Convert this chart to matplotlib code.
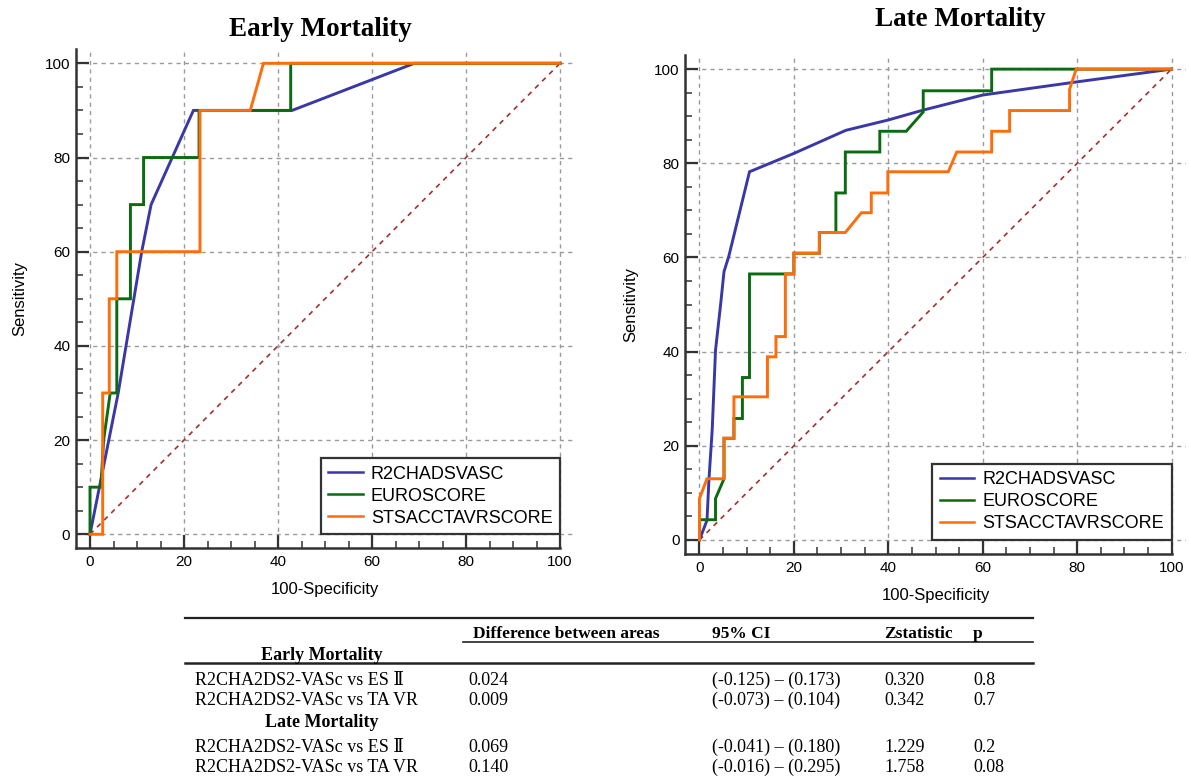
import matplotlib
matplotlib.use("Agg")
import matplotlib.pyplot as plt
from matplotlib.lines import Line2D
from matplotlib.ticker import MultipleLocator

# ROC curves, values (100-Specificity, Sensitivity)
early_r2_x = [0, 3, 6, 11, 13, 22, 43, 69, 100]
early_r2_y = [0, 15, 30, 60, 70, 90, 90, 100, 100]
early_euro_x = [0, 0, 2.3, 2.9, 4.3, 5.7, 5.7, 8.6, 8.6, 11.4, 11.4, 23.2, 23.2, 42.7, 42.7, 100]
early_euro_y = [0, 10, 10, 20, 30, 30, 50, 50, 70, 70, 80, 80, 90, 90, 100, 100]
early_sts_x = [0, 2.7, 2.7, 4.1, 4.1, 5.7, 5.7, 23.4, 23.4, 34.1, 36.9, 100]
early_sts_y = [0, 0, 30, 30, 50, 50, 60, 60, 90, 90, 100, 100]

late_r2_x = [0, 1.6, 2.0, 2.7, 3.4, 4.5, 5.2, 6.2, 10.6, 20, 31, 40, 47.4, 60, 80, 100]
late_r2_y = [0, 4.2, 12.7, 23.4, 40.3, 50.2, 57, 60.2, 78.2, 82.1, 87, 89.2, 91.3, 94.5, 97.3, 100]
late_euro_x = [0, 0, 3.4, 3.4, 5.2, 5.2, 7.3, 7.3, 9.1, 9.1, 10.6, 10.6, 20, 20, 25.4, 25.4,
               28.9, 28.9, 30.9, 30.9, 38.2, 38.2, 43.8, 47.4, 47.4, 61.9, 61.9, 100]
late_euro_y = [0, 4.3, 4.3, 8.8, 13, 21.6, 21.6, 25.8, 25.8, 34.5, 34.5, 56.5, 56.5, 60.9, 60.9, 65.3,
               65.3, 73.7, 73.7, 82.4, 82.4, 86.8, 86.8, 90.9, 95.4, 95.4, 100, 100]
late_sts_x = [0, 0, 1.6, 5.2, 5.2, 7.3, 7.3, 14.4, 14.4, 16.2, 16.2, 18.2, 18.2, 20, 20, 25.4, 25.4,
              30.9, 34.3, 36.4, 36.4, 39.9, 39.9, 52.7, 54.5, 61.9, 61.9, 65.7, 65.7, 78.4, 78.4, 79.8, 100]
late_sts_y = [0, 8.8, 13, 13, 21.6, 21.6, 30.4, 30.4, 38.9, 38.9, 43.2, 43.2, 56.5, 56.5, 60.9, 60.9, 65.3,
              65.3, 69.5, 69.5, 73.7, 73.7, 78.2, 78.2, 82.4, 82.4, 86.8, 86.8, 91.2, 91.2, 95.7, 100, 100]

names = ["R2CHADSVASC", "EUROSCORE", "STSACCTAVRSCORE"]
colors = ["#3a37a6", "#0b6b12", "#ff6d0a"]

# comparison table
tbl_header = ["Difference between areas", "95% CI", "Zstatistic", "p"]
tbl_groups = ["Early Mortality", "Late Mortality"]
tbl_rows = ["R2CHA2DS2-VASc vs ES \u2161", "R2CHA2DS2-VASc vs TA VR"]
tbl_diff = [["0.024", "0.009"], ["0.069", "0.140"]]
tbl_ci = [["(-0.125) \u2013 (0.173)", "(-0.073) \u2013 (0.104)"],
          ["(-0.041) \u2013 (0.180)", "(-0.016) \u2013 (0.295)"]]
tbl_z = [["0.320", "0.342"], ["1.229", "1.758"]]
tbl_p = [["0.8", "0.7"], ["0.2", "0.08"]]

W, H = 1189, 776
SANS = ["Liberation Sans", "DejaVu Sans"]
SERIF = ["Liberation Serif", "DejaVu Serif"]

fig = plt.figure(figsize=(W / 100, H / 100), dpi=100)


def fx(px):
    return px / W


def fy(py):
    return 1 - py / H


def roc_axes(rect, curves, title, title_xy, ylab_x):
    ax = fig.add_axes(rect)
    ax.set_xlim(-3, 103)
    ax.set_ylim(-3, 103)
    for s in ["top", "right"]:
        ax.spines[s].set_visible(False)
    for s in ["left", "bottom"]:
        ax.spines[s].set_linewidth(1.8)
        ax.spines[s].set_color("#333333")
    ax.spines["bottom"].set_bounds(-3, 100)
    ax.xaxis.set_major_locator(MultipleLocator(20))
    ax.yaxis.set_major_locator(MultipleLocator(20))
    ax.xaxis.set_minor_locator(MultipleLocator(5))
    ax.yaxis.set_minor_locator(MultipleLocator(5))
    ax.set_xticks([0, 20, 40, 60, 80, 100])
    ax.tick_params(which="major", direction="in", length=9.5, width=1.6, color="#333333",
                   labelsize=11, pad=4)
    ax.tick_params(which="minor", direction="in", length=5, width=1.1, color="#333333")
    ax.tick_params(axis="x", which="major", pad=5)
    for lab in ax.get_xticklabels() + ax.get_yticklabels():
        lab.set_family(SANS)
    ax.grid(True, which="major", color="#9a9a9a", linestyle=(0, (3, 3)), linewidth=1)
    ax.set_axisbelow(True)

    ax.plot([0, 100], [0, 100], color="#a33030", linestyle=(0, (3, 3)), linewidth=1.2)
    for (xs, ys), name, c in zip(curves, names, colors):
        ax.plot(xs, ys, color=c, linewidth=2.1, label=name, solid_joinstyle="miter")

    ax.set_xlabel("100-Specificity", family=SANS, fontsize=12)
    ax.set_ylabel("Sensitivity", family=SANS, fontsize=12)
    ax.xaxis.set_label_coords(0.5, -0.068)
    ax.yaxis.set_label_coords(ylab_x, 0.5)

    leg = ax.legend(loc="lower right", bbox_to_anchor=(100, 0), bbox_transform=ax.transData,
                    borderaxespad=0, fancybox=False, framealpha=1, edgecolor="#333333",
                    prop={"family": SANS, "size": 13}, handlelength=1.9, handletextpad=0.45,
                    labelspacing=0.28, borderpad=0.42)
    leg.get_frame().set_linewidth(1.6)
    for ln in leg.get_lines():
        ln.set_linewidth(1.8)

    fig.text(title_xy[0], title_xy[1], title, family=SERIF, fontsize=19.5,
             fontweight="bold", ha="center", va="center")
    return ax


roc_axes([fx(75.9), fy(548.4), fx(498.2), (548.4 - 49.2) / H],
         [(early_r2_x, early_r2_y), (early_euro_x, early_euro_y), (early_sts_x, early_sts_y)],
         "Early Mortality", (fx(320), fy(30)), -0.098)
roc_axes([fx(685.3), fy(554.1), fx(500.4), (554.1 - 55.0) / H],
         [(late_r2_x, late_r2_y), (late_euro_x, late_euro_y), (late_sts_x, late_sts_y)],
         "Late Mortality", (fx(960), fy(20)), -0.093)

# table lines
def hline(x0, x1, y, lw):
    fig.add_artist(Line2D([fx(x0), fx(x1)], [fy(y), fy(y)], color="#222222", linewidth=lw))


hline(185, 1033, 618.3, 1.6)
hline(463, 1033, 641.7, 1.2)
hline(185, 1033, 663.3, 1.8)

col_x = [473, 711.7, 884, 973]
for x, h in zip(col_x, tbl_header):
    fig.text(fx(x), fy(638.3), h, family=SERIF, fontsize=12.5, fontweight="bold",
             ha="left", va="baseline")

group_base = [660, 727.3]
row_base = [[685, 705], [751.7, 771.7]]
for g in range(2):
    fig.text(fx(322), fy(group_base[g]), tbl_groups[g], family=SERIF, fontsize=13,
             fontweight="bold", ha="center", va="baseline")
    for r in range(2):
        y = fy(row_base[g][r])
        fig.text(fx(195), y, tbl_rows[r], family=SERIF, fontsize=13, ha="left", va="baseline")
        fig.text(fx(468.5), y, tbl_diff[g][r], family=SERIF, fontsize=13, ha="left", va="baseline")
        fig.text(fx(711.7), y, tbl_ci[g][r], family=SERIF, fontsize=13, ha="left", va="baseline")
        fig.text(fx(884), y, tbl_z[g][r], family=SERIF, fontsize=13, ha="left", va="baseline")
        fig.text(fx(973), y, tbl_p[g][r], family=SERIF, fontsize=13, ha="left", va="baseline")

fig.savefig("out.png", dpi=100)
